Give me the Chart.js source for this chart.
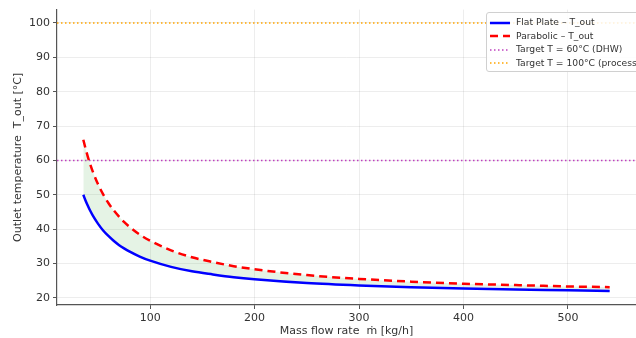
<!DOCTYPE html>
<html>
<head>
<meta charset="utf-8">
<script src="https://cdn.jsdelivr.net/npm/chart.js@4"></script>
<style>
  html, body { margin: 0; padding: 0; background: #fff; overflow: hidden; }
  #wrap { position: relative; width: 636px; height: 338px; }
  #legend {
    position: absolute; left: 486px; top: 12px;
    padding: 2px 6px 2px 3px;
    border: 1px solid #d0d0d0; border-radius: 3px;
    background: rgba(255,255,255,0.85);
    font: 9.2px "DejaVu Sans", sans-serif; color: #333;
    white-space: nowrap;
  }
  #legend div { height: 13.5px; line-height: 13.5px; }
  #legend svg { vertical-align: middle; margin-right: 6px; }
</style>
</head>
<body>
<div id="wrap">
  <canvas id="chart" width="636" height="338"></canvas>
  <div id="legend"></div>
</div>
<script>
'use strict';

// mass flow rate [kg/h]
let massFlow = [36, 38, 40, 42, 45, 50, 55, 60, 65, 70, 75, 80, 90, 100, 120, 140, 160, 180, 200, 250, 300, 350, 400, 450, 500, 540];
// outlet temperatures [°C]
let flatPlate = [50, 48.4, 47.0, 45.7, 44.0, 41.6, 39.6, 38.0, 36.6, 35.4, 34.4, 33.5, 32.0, 30.8, 29.0, 27.7, 26.8, 26.0, 25.4, 24.3, 23.6, 23.1, 22.7, 22.4, 22.2, 22.0];
let parabolic = [66, 63.6, 61.4, 59.4, 56.8, 53.1, 50.1, 47.6, 45.5, 43.7, 42.1, 40.7, 38.4, 36.6, 33.8, 31.8, 30.4, 29.2, 28.3, 26.6, 25.5, 24.7, 24.1, 23.7, 23.3, 23.1];
let targetDHW = 60;
let targetProcess = 100;
let xLimits = [10.8, 565.2];
let yLimits = [17.9, 103.9];
let xTicks = [100, 200, 300, 400, 500];
let yTicks = [20, 30, 40, 50, 60, 70, 80, 90, 100];

function pairs(xs, ys) {
  return xs.map((x, i) => ({x: x, y: ys[i]}));
}

function hline(value) {
  return xLimits.map(x => ({x: x, y: value}));
}

let font = {family: 'DejaVu Sans', size: 11};

let datasets = [{
  label: 'Flat Plate – T_out',
  data: pairs(massFlow, flatPlate),
  borderColor: '#0000ff',
  borderWidth: 2.5,
  fill: '+1',
  backgroundColor: 'rgba(44,160,44,0.12)',
  order: 2
}, {
  label: 'Parabolic – T_out',
  data: pairs(massFlow, parabolic),
  borderColor: '#ff0000',
  borderWidth: 2.5,
  borderDash: [8, 5],
  fill: false,
  order: 1
}, {
  label: 'Target T = 60°C (DHW)',
  data: hline(targetDHW),
  borderColor: '#bf40bf',
  borderWidth: 1.5,
  borderDash: [1.5, 2.5],
  fill: false,
  order: 3
}, {
  label: 'Target T = 100°C (process)',
  data: hline(targetProcess),
  borderColor: '#ffa500',
  borderWidth: 1.5,
  borderDash: [1.5, 2.5],
  fill: false,
  order: 3
}];

function fixedTicks(values) {
  return function (axis) {
    axis.ticks = values.map(v => ({value: v}));
  };
}

new Chart(document.getElementById('chart'), {
  type: 'line',
  data: {datasets: datasets},
  options: {
    responsive: false,
    animation: false,
    layout: {padding: {top: 9, right: 0, left: 0, bottom: 0}},
    elements: {point: {radius: 0}, line: {cubicInterpolationMode: 'monotone'}},
    plugins: {legend: {display: false}, tooltip: {enabled: false}},
    scales: {
      x: {
        type: 'linear',
        min: xLimits[0],
        max: xLimits[1],
        ticks: {color: '#333', font: font, padding: 3},
        afterBuildTicks: fixedTicks(xTicks),
        afterFit: axis => { axis.height = 33; },
        grid: {color: 'rgba(0,0,0,0.07)', tickColor: '#555', tickLength: 4},
        border: {display: true, color: '#555', width: 1.2},
        title: {display: true, text: 'Mass flow rate  ṁ [kg/h]', color: '#333', font: font, padding: {top: 0, bottom: 0}}
      },
      y: {
        min: yLimits[0],
        max: yLimits[1],
        ticks: {color: '#333', font: font, padding: 3},
        afterBuildTicks: fixedTicks(yTicks),
        afterFit: axis => { axis.width = 57; },
        grid: {color: 'rgba(0,0,0,0.07)', tickColor: '#555', tickLength: 4},
        border: {display: true, color: '#555', width: 1.2},
        title: {display: true, text: 'Outlet temperature  T_out [°C]', color: '#333', font: font, padding: {top: 12, bottom: 0}}
      }
    }
  }
});

// legend inside the plot, upper right
let legend = document.getElementById('legend');
datasets.forEach(ds => {
  let row = document.createElement('div');
  let dash = ds.borderDash ? ds.borderDash.join(' ') : 'none';
  row.innerHTML = '<svg width="20" height="6"><line x1="0" y1="3" x2="20" y2="3" stroke="' + ds.borderColor +
    '" stroke-width="' + ds.borderWidth + '" stroke-dasharray="' + dash + '"/></svg>';
  row.appendChild(document.createTextNode(ds.label));
  legend.appendChild(row);
});
</script>
</body>
</html>
